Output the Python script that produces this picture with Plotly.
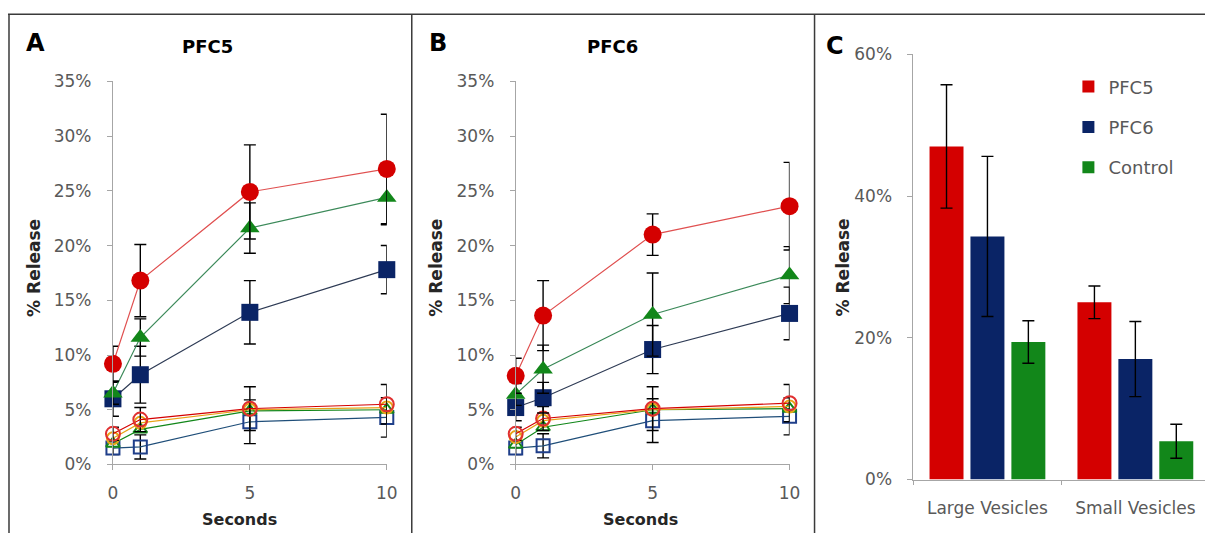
import plotly.graph_objects as go

# Layout is specified in target-picture pixels and mapped to figure pixels
SX, AX0 = 0.9874, 5.0
SY, AY0 = 0.9607, 8.8
FW, FH = 1216, 546
seconds = [0, 1, 5, 10]

# Panel A (PFC5) filled series
a_red = [9.2, 16.8, 24.9, 27.0]
a_red_err = [1.6, 3.3, 4.3, 5.0]
a_green = [6.5, 11.6, 21.6, 24.4]
a_green_err = [1.0, 1.7, 2.3, 2.5]
a_blue = [6.0, 8.2, 13.9, 17.8]
a_blue_err = [1.6, 2.6, 2.9, 2.2]
# Panel A open series
a_red_o = [2.8, 4.1, 5.1, 5.5]
a_orange_o = [2.4, 3.8, 5.0, 5.2]
a_green_o = [1.9, 3.2, 4.9, 5.0]
a_blue_o = [1.5, 1.6, 3.9, 4.3]
a_open_err = [0.6, 1.1, 2.0, 1.8]

# Panel B (PFC6)
b_red = [8.1, 13.6, 21.0, 23.6]
b_red_err = [1.6, 3.2, 1.9, 4.0]
b_green = [6.4, 8.7, 13.7, 17.3]
b_green_err = [1.0, 2.2, 3.8, 2.6]
b_blue = [5.2, 6.1, 10.5, 13.8]
b_blue_err = [1.2, 1.4, 2.2, 2.4]
b_red_o = [2.8, 4.2, 5.1, 5.6]
b_orange_o = [2.5, 4.0, 5.0, 5.3]
b_green_o = [1.8, 3.4, 5.0, 5.1]
b_blue_o = [1.5, 1.7, 4.0, 4.4]
b_open_err = [0.6, 1.1, 2.0, 1.7]

# Panel C
vesicles = ["Large Vesicles", "Small Vesicles"]
c_pfc5 = [47.0, 25.0]
c_pfc5_err = [8.7, 2.3]
c_pfc6 = [34.3, 17.0]
c_pfc6_err = [11.3, 5.3]
c_ctrl = [19.4, 5.4]
c_ctrl_err = [3.0, 2.4]

RED = "#d40000"
BLUE = "#0a2466"
GREEN = "#12871a"
ORANGE = "#e8a317"
TICK = "#595959"
AX = "#a6a6a6"
FONT = "DejaVu Sans, sans-serif"

fig = go.Figure()


def add_line(xa, ya, vals, errs, color, lcolor, symbol, size, open_=False):
    fig.add_trace(go.Scatter(
        x=seconds, y=vals, mode="lines+markers", xaxis=xa, yaxis=ya,
        line=dict(color=lcolor, width=1.2),
        marker=dict(symbol=symbol, size=size, color=color,
                    line=dict(color=color, width=2 if open_ else 0)),
        error_y=dict(type="data", array=errs if errs is not None else [0] * 4,
                     visible=errs is not None, color="black", thickness=1.4, width=6),
        showlegend=False, cliponaxis=False,
    ))


for xa, ya, data in [
    ("x", "y", dict(r=a_red, re=a_red_err, g=a_green, ge=a_green_err, b=a_blue, be=a_blue_err,
                    ro=a_red_o, oo=a_orange_o, go_=a_green_o, bo=a_blue_o, oe=a_open_err)),
    ("x2", "y2", dict(r=b_red, re=b_red_err, g=b_green, ge=b_green_err, b=b_blue, be=b_blue_err,
                      ro=b_red_o, oo=b_orange_o, go_=b_green_o, bo=b_blue_o, oe=b_open_err)),
]:
    add_line(xa, ya, data["bo"], data["oe"], "#1f3f8a", "#1f4e79", "square-open", 13, True)
    add_line(xa, ya, data["go_"], None, GREEN, GREEN, "triangle-up-open", 12, True)
    add_line(xa, ya, data["oo"], None, ORANGE, ORANGE, "circle-open", 12, True)
    add_line(xa, ya, data["ro"], data["oe"], "#e03030", RED, "circle-open", 14, True)
    add_line(xa, ya, data["b"], data["be"], BLUE, "#2e3b55", "square", 17)
    add_line(xa, ya, data["g"], data["ge"], GREEN, "#3c8a5a", "triangle-up", 17)
    add_line(xa, ya, data["r"], data["re"], RED, "#e05050", "circle", 18)

for name, vals, errs, col in [("PFC5", c_pfc5, c_pfc5_err, RED),
                              ("PFC6", c_pfc6, c_pfc6_err, BLUE),
                              ("Control", c_ctrl, c_ctrl_err, GREEN)]:
    fig.add_trace(go.Bar(
        x=vesicles, y=vals, name=name, xaxis="x3", yaxis="y3", marker_color=col,
        marker_line_width=0, legendgroup=name,
        error_y=dict(type="data", array=errs, color="black", thickness=1.4, width=6),
    ))


def px_x(r):
    return ((r - AX0) / SX) / FW


def px_y(r):
    return 1 - ((r - AY0) / SY) / FH


ydomAB = [px_y(462), px_y(80)]
axis_common = dict(showgrid=False, zeroline=False, showline=True, linecolor=AX, linewidth=1,
                   ticks="outside", tickcolor=AX, ticklen=5,
                   tickfont=dict(family=FONT, size=17, color=TICK))

# category axis range so that each category spans ~148 target px
c_left = (914 - AX0) / SX
unit = 148 / SX
c_hi = -0.5 + (FW - c_left) / unit

fig.update_layout(
    width=FW, height=FH, margin=dict(l=0, r=0, t=0, b=0),
    paper_bgcolor="white", plot_bgcolor="white",
    barmode="group", bargap=0.17, bargroupgap=0.17,
    font=dict(family=FONT),
    xaxis=dict(domain=[px_x(113), px_x(387)], range=[0, 10], tickvals=[0, 5, 10],
               anchor="y", ticklabelstandoff=8, **axis_common),
    yaxis=dict(domain=ydomAB, range=[0, 35], dtick=5, ticksuffix="%", anchor="x",
               ticklabelstandoff=12, **axis_common),
    xaxis2=dict(domain=[px_x(516), px_x(790)], range=[0, 10], tickvals=[0, 5, 10],
                anchor="y2", ticklabelstandoff=8, **axis_common),
    yaxis2=dict(domain=ydomAB, range=[0, 35], dtick=5, ticksuffix="%", anchor="x2",
                ticklabelstandoff=12, **axis_common),
    xaxis3=dict(domain=[px_x(914), 1], range=[-0.5, c_hi], anchor="y3",
                ticklabelstandoff=13, tickson="boundaries", **{**axis_common, "ticklen": 4}),
    yaxis3=dict(domain=[px_y(477), px_y(53)], range=[0, 60], dtick=20, ticksuffix="%",
                anchor="x3", ticklabelstandoff=12, **axis_common),
    legend=dict(x=px_x(1069), y=px_y(67), xanchor="left", yanchor="top",
                font=dict(family=FONT, size=18, color=TICK), tracegroupgap=14,
                bgcolor="rgba(255,255,255,0)", itemwidth=30),
)

# Panel borders (top line, left line and dividers)
LINE = dict(color="#3a3a3a", width=1.5)
fig.add_shape(type="line", xref="paper", yref="paper", x0=px_x(8), x1=1,
              y0=px_y(13), y1=px_y(13), line=LINE)
for xv in [9, 412, 815]:
    fig.add_shape(type="line", xref="paper", yref="paper", x0=px_x(xv), x1=px_x(xv),
                  y0=0, y1=px_y(13), line=LINE)


def text(x, y, s, size, bold=True, angle=0, color="black"):
    fig.add_annotation(x=px_x(x), y=px_y(y), xref="paper", yref="paper",
                       text=f"<b>{s}</b>" if bold else s, showarrow=False,
                       textangle=angle, xanchor="center", yanchor="middle",
                       font=dict(family=FONT, size=size, color=color))


text(36, 42, "A", 24)
text(438, 42, "B", 24)
text(835, 45, "C", 24)
text(208, 45, "PFC5", 18)
text(613, 45, "PFC6", 18)
text(240, 517, "Seconds", 16, color="#262626")
text(641, 517, "Seconds", 16, color="#262626")
text(34, 266, "% Release", 17, angle=-90, color="#262626")
text(436, 266, "% Release", 17, angle=-90, color="#262626")
text(843, 266, "% Release", 17, angle=-90, color="#262626")

fig.write_html("out.html")
